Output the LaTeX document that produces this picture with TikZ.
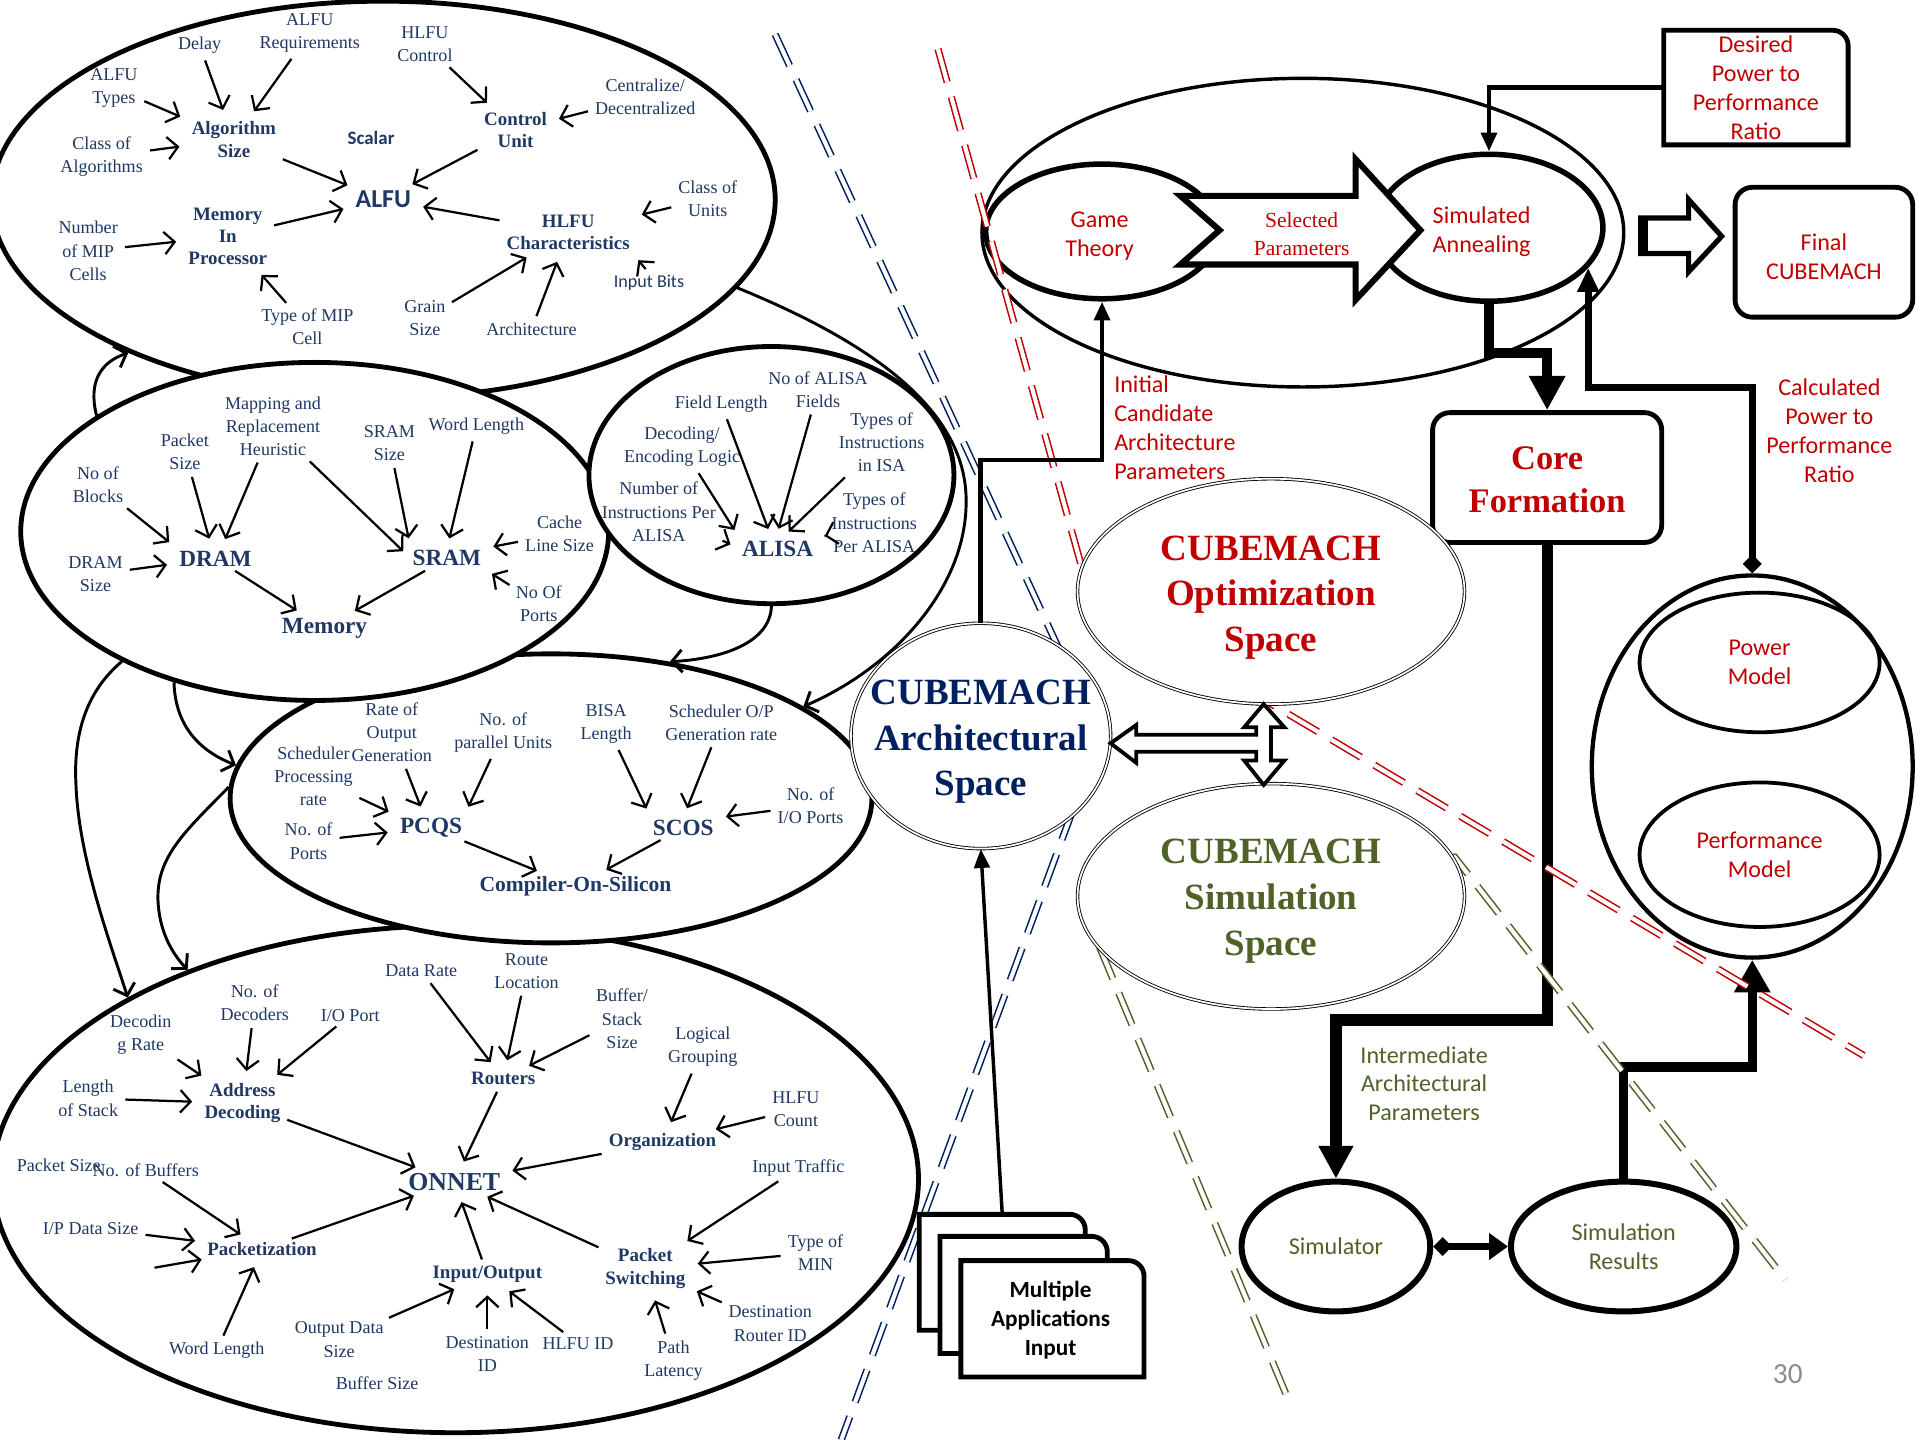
\documentclass[tikz,border=0pt]{standalone}
\usepackage{fontspec}
\setmainfont{Liberation Serif}
\newfontfamily\carlito{Carlito}
\usetikzlibrary{arrows.meta,shapes.geometric}

\definecolor{navy}{RGB}{31,56,100}
\definecolor{deepnavy}{RGB}{0,32,96}
\definecolor{cmred}{RGB}{192,0,0}
\definecolor{olive}{RGB}{79,98,40}
\definecolor{pagegray}{RGB}{140,140,140}

\newcommand{\docedge}[1]{%
  \draw[line width=2.8pt,fill=white] (#1.south west) -- (#1.north west)
    -- ([xshift=-9pt]#1.north east) arc[start angle=90,end angle=0,radius=9pt]
    -- (#1.south east) -- cycle;}

\begin{document}
\begin{tikzpicture}[x=0.025cm,y=-0.025cm,
  lbl/.style={text=navy,inner sep=1pt,align=center,font=\fontsize{10.5}{13.5}\selectfont},
  hub/.style={lbl,font=\bfseries\fontsize{11}{13}\selectfont},
  mainunit/.style={lbl,font=\bfseries\fontsize{13.5}{16}\selectfont},
  feed/.style={-{Straight Barb[length=6pt,width=13pt]},line width=1.3pt,shorten <=3pt,shorten >=6pt},
  realm/.style={ellipse,draw,fill=white,line width=2.8pt,inner sep=0pt},
  link/.style={-{Straight Barb[length=6pt,width=13pt]},line width=1.7pt},
  divider/.style={double distance=2.4pt,line width=0.9pt,dash pattern=on 20pt off 9pt},
  stage/.style={ellipse,draw,inner sep=0pt,align=center},
  redtxt/.style={text=cmred,align=center,font=\carlito\fontsize{14}{16.8}\selectfont},
  greentxt/.style={text=olive,align=center,font=\carlito\fontsize{14}{16.8}\selectfont},
  cmspace/.style={ellipse,draw,fill=white,double distance=1pt,line width=0.5pt,inner sep=0pt},
  cmtxt/.style={align=center,font=\bfseries\fontsize{21.5}{26.5}\selectfont},
  flow/.style={line width=2.8pt,-{Triangle[length=11pt,width=9pt]}},
]
\useasboundingbox (0,0) rectangle (1568,1176);

% parameter spaces
\node[realm,minimum width=18.9cm,minimum height=10.35cm] (onnetell) at (372,963) {};
\node[realm,minimum width=13.1cm,minimum height=5.9cm] (cosell) at (450,652) {};
\node[realm,minimum width=16cm,minimum height=8.1cm] (alfuell) at (313,163) {};
\node[realm,minimum width=12cm,minimum height=6.9cm] (memell) at (257,434) {};
\node[realm,minimum width=7.45cm,minimum height=5.25cm] (alisaell) at (630,388) {};

% ALFU
\node[lbl] (alfutypes) at (93,72) {ALFU\\Types};
\node[lbl] (delay) at (163,37) {Delay};
\node[lbl] (alfureq) at (253,27) {ALFU\\Requirements};
\node[lbl] (hlfuctl) at (347,36) {HLFU\\Control};
\node[lbl] (central) at (527,79) {Centralize/\\Decentralized};
\node[lbl] (classalg) at (83,128) {Class of\\Algorithms};
\node[hub] (algsize) at (191,114) {Algorithm\\Size};
\node[lbl,font=\carlito\bfseries\fontsize{11}{13}\selectfont] (scalar) at (303,113) {Scalar};
\node[hub] (ctlunit) at (421,106) {Control\\Unit};
\node[lbl,font=\carlito\bfseries\fontsize{15}{18}\selectfont] (alfu) at (313,163) {ALFU};
\node[lbl] (classunits) at (578,162) {Class of\\Units};
\node[hub] (mip) at (186,193) {Memory\\In\\Processor};
\node[lbl] (nummip) at (72,205) {Number\\of MIP\\Cells};
\node[hub] (hlfuchar) at (464,190) {HLFU\\Characteristics};
\node[lbl,font=\carlito\fontsize{10.5}{13}\selectfont] (inbits) at (530,231) {Input Bits};
\node[lbl] (mipcell) at (251,267) {Type of MIP\\Cell};
\node[lbl] (grain) at (347,260) {Grain\\Size};
\node[lbl] (archi) at (434,269) {Architecture};
\draw[feed] (alfutypes) -- (algsize);
\draw[feed] (delay) -- (algsize);
\draw[feed] (alfureq) -- (algsize);
\draw[feed] (classalg) -- (algsize);
\draw[feed] (algsize) -- (alfu);
\draw[feed] (ctlunit) -- (alfu);
\draw[feed] (hlfuctl) -- (ctlunit);
\draw[feed] (central) -- (ctlunit);
\draw[feed] (mip) -- (alfu);
\draw[feed] (hlfuchar) -- (alfu);
\draw[feed] (classunits) -- (hlfuchar);
\draw[feed] (inbits.north) -- (hlfuchar.south east);
\draw[feed] (grain) -- (hlfuchar);
\draw[feed] (archi) -- (hlfuchar);
\draw[feed] (mipcell) -- (mip);
\draw[feed] (nummip) -- (mip);

% Memory
\node[lbl] (noblocks) at (80,396) {No of\\Blocks};
\node[lbl] (pktsize) at (151,369) {Packet\\Size};
\node[lbl] (mapping) at (223,348) {Mapping and\\Replacement\\Heuristic};
\node[lbl] (sramsize) at (318,362) {SRAM\\Size};
\node[lbl] (wordlen) at (389,348) {Word Length};
\node[lbl] (cacheline) at (457,436) {Cache\\Line Size};
\node[lbl] (dramsize) at (78,469) {DRAM\\Size};
\node[mainunit] (dram) at (176,456) {DRAM};
\node[mainunit] (sram) at (365,456) {SRAM};
\node[lbl] (noports) at (440,493) {No Of\\Ports};
\node[mainunit] (memory) at (265,513) {Memory};
\draw[feed] (noblocks) -- (dram.north west);
\draw[feed] (pktsize) -- (dram.110);
\draw[feed] (mapping) -- (dram.60);
\draw[feed] (mapping) -- (sram.west);
\draw[feed] (sramsize) -- (sram.north west);
\draw[feed] (wordlen) -- (sram.north);
\draw[feed] (cacheline) -- (sram.north east);
\draw[feed] (dramsize) -- (dram);
\draw[feed] (dram) -- (memory);
\draw[feed] (sram) -- (memory);
\draw[feed] (noports) -- (sram.south east);

% ALISA
\node[lbl] (alisafields) at (668,318) {No of ALISA\\Fields};
\node[lbl] (fieldlen) at (589,330) {Field Length};
\node[lbl] (decoding) at (557,365) {Decoding/\\Encoding Logic};
\node[lbl] (typesisa) at (720,361) {Types of\\Instructions\\in ISA};
\node[lbl] (numinstr) at (538,418) {Number of\\Instructions Per\\ALISA};
\node[lbl] (typesper) at (714,427) {Types of\\Instructions\\Per ALISA};
\node[mainunit] (alisa) at (635,448) {ALISA};
\draw[feed] (decoding) -- (alisa.north west);
\draw[feed] (fieldlen) -- (alisa.120);
\draw[feed] (alisafields) -- (alisa.100);
\draw[feed] (typesisa) -- (alisa.70);
\draw[feed] (numinstr) -- (alisa.west);
\draw[feed] (typesper) -- (alisa);

% Compiler-On-Silicon
\node[lbl] (rateout) at (320,598) {Rate of\\Output\\Generation};
\node[lbl] (schedproc) at (256,634) {Scheduler\\Processing\\rate};
\node[lbl] (parunits) at (411,598) {No. of\\parallel Units};
\node[lbl] (bisalen) at (495,591) {BISA\\Length};
\node[lbl] (schedop) at (589,590) {Scheduler O/P\\Generation rate};
\node[lbl] (ioports) at (662,658) {No. of\\I/O Ports};
\node[lbl] (ports) at (252,687) {No. of\\Ports};
\node[mainunit] (pcqs) at (352,676) {PCQS};
\node[mainunit] (scos) at (558,676) {SCOS};
\node[lbl,font=\bfseries\fontsize{12.5}{15}\selectfont] (cos) at (470,724) {Compiler-On-Silicon};
\draw[feed] (schedproc) -- (pcqs.north west);
\draw[feed] (rateout) -- (pcqs.120);
\draw[feed] (parunits) -- (pcqs.north east);
\draw[feed] (ports) -- (pcqs);
\draw[feed] (pcqs) -- (cos);
\draw[feed] (bisalen) -- (scos.north west);
\draw[feed] (schedop) -- (scos.north);
\draw[feed] (ioports) -- (scos.north east);
\draw[feed] (scos) -- (cos);

% ONNET
\node[lbl] (decrate) at (115,845) {Decodin\\g Rate};
\node[lbl] (nodec) at (208,819) {No. of\\Decoders};
\node[lbl] (ioport) at (286,829) {I/O Port};
\node[lbl] (datarate) at (344,793) {Data Rate};
\node[lbl] (routeloc) at (430,793) {Route\\Location};
\node[lbl] (bufstack) at (508,832) {Buffer/\\Stack\\Size};
\node[lbl] (logical) at (574,855) {Logical\\Grouping};
\node[lbl] (hlfucount) at (650,906) {HLFU\\Count};
\node[lbl] (lenstack) at (72,897) {Length\\of Stack};
\node[hub] (addrdec) at (198,901) {Address\\Decoding};
\node[hub] (routers) at (411,881) {Routers};
\node[hub] (organ) at (541,933) {Organization};
\node[lbl] (intraffic) at (652,954) {Input Traffic};
\node[lbl,font=\bfseries\fontsize{15}{18}\selectfont] (onnet) at (371,965) {ONNET};
\node[lbl] (pktsz) at (48,952) {Packet Size};
\node[lbl] (nobuf) at (119,956) {No. of Buffers};
\node[lbl] (ipdata) at (74,1003) {I/P Data Size};
\coordinate (pktin) at (122,1036);
\node[hub] (pktz) at (214,1020) {Packetization};
\node[lbl] (typemin) at (666,1023) {Type of\\MIN};
\node[hub] (pktsw) at (527,1036) {Packet\\Switching};
\node[hub] (inout) at (398,1041) {Input/Output};
\node[lbl] (outdata) at (277,1094) {Output Data\\Size};
\node[lbl] (wordlentwo) at (177,1103) {Word Length};
\node[lbl] (destid) at (398,1106) {Destination\\ID};
\node[lbl] (hlfuid) at (472,1097) {HLFU ID};
\node[lbl] (destrouter) at (629,1081) {Destination\\Router ID};
\node[lbl] (pathlat) at (550,1111) {Path\\Latency};
\node[lbl] (bufsize) at (308,1130) {Buffer Size};
\draw[feed] (decrate) -- (addrdec);
\draw[feed] (nodec) -- (addrdec);
\draw[feed] (ioport) -- (addrdec);
\draw[feed] (lenstack) -- (addrdec);
\draw[feed] (addrdec) -- (onnet);
\draw[feed] (datarate) -- (routers);
\draw[feed] (routeloc) -- (routers);
\draw[feed] (bufstack) -- (routers);
\draw[feed] (routers) -- (onnet);
\draw[feed] (logical) -- (organ);
\draw[feed] (hlfucount) -- (organ);
\draw[feed] (organ) -- (onnet);
\draw[feed] (pktz) -- (onnet);
\draw[feed] (nobuf) -- (pktz);
\draw[feed] (ipdata) -- (pktz);
\draw[feed] (pktin) -- (pktz);
\draw[feed] (wordlentwo) -- (pktz);
\draw[feed] (inout) -- (onnet);
\draw[feed] (pktsw) -- (onnet);
\draw[feed] (intraffic) -- (pktsw);
\draw[feed] (typemin) -- (pktsw);
\draw[feed] (destrouter) -- (pktsw);
\draw[feed] (pathlat) -- (pktsw);
\draw[feed] (outdata) -- (inout);
\draw[feed] (destid) -- (inout);
\draw[feed] (hlfuid) -- (inout);

% links between the spaces
\draw[link] (memell.152) .. controls (72,312) and (82,296) .. (alfuell.211);
\draw[link] (alfuell.-14) .. controls (700,275) and (790,330) .. (789,410)
  .. controls (789,480) and (730,545) .. (cosell.20);
\draw[link] (alisaell.south) .. controls (629,525) and (590,538) .. (cosell.49);
\draw[link] (memell.214) .. controls (70,565) and (60,600) .. (62,640)
  .. controls (64,700) and (90,770) .. (onnetell.151);
\draw[link] (memell.227) .. controls (143,590) and (160,612) .. (cosell.174);
\draw[link] (cosell.178) .. controls (150,680) and (128,700) .. (129,735)
  .. controls (130,760) and (140,778) .. (onnetell.142);

% optimization loop
\node[stage,line width=2pt,minimum width=13.1cm,minimum height=6.3cm] (topell) at (1064,190) {};
\node[stage,line width=3.2pt,minimum width=4.75cm,minimum height=2.75cm] (gamell) at (900,189) {};
\node[stage,line width=3.2pt,minimum width=4.65cm,minimum height=3cm] (saell) at (1216,186) {};
\node[redtxt] (gametxt) at (898,193) {Game\\Theory};
\node[redtxt] (satxt) at (1210,189) {Simulated\\Annealing};
\draw[line width=3.5pt,fill=white] (964,160) -- (1107,160) -- (1107,130) -- (1160,188)
  -- (1107,245) -- (1107,216) -- (964,216) -- (996,188) -- cycle;
\node[text=cmred,align=center,font=\fontsize{12.5}{16.4}\selectfont] (selpar) at (1063,191) {Selected\\Parameters};

\node[redtxt,minimum width=3.75cm,minimum height=2.325cm,inner sep=0pt] (desired) at (1434,71.5) {Desired\\Power to\\Performance\\Ratio};
\draw[line width=2.8pt] (desired.south west) -- (desired.north west)
  -- ([xshift=-9pt]desired.north east) arc[start angle=90,end angle=0,radius=9pt]
  -- (desired.south east) -- cycle;
\draw[flow] (desired.west) -| (saell.north);

\draw[line width=3pt,fill=white] (1340,178) -- (1379,178) -- (1379,163) -- (1406,193)
  -- (1379,222) -- (1379,207) -- (1340,207) -- cycle;
\draw[line width=6pt] (1342,178) -- (1342,207);
\node[draw,line width=2.8pt,rounded corners=10pt,minimum width=3.625cm,minimum height=2.65cm] (final) at (1489.5,206) {};
\node[redtxt] (finaltxt) at (1489.5,210) {Final\\CUBEMACH};

\node[draw,line width=2.8pt,rounded corners=10pt,minimum width=4.675cm,minimum height=2.65cm] (core) at (1263.5,390) {};
\node[text=cmred,align=center,font=\bfseries\fontsize{20}{25}\selectfont] (coretxt) at (1263.5,392) {Core\\Formation};
\draw[line width=5.5pt,-{Triangle[length=20pt,width=20pt]}] (saell.south) -- ++(0,40) -| (core.north);

% power and performance models
\node[stage,line width=2.5pt,minimum width=6.55cm,minimum height=7.8cm] (pmell) at (1431,626) {};
\node[stage,line width=2.2pt,minimum width=4.9cm,minimum height=2.85cm,redtxt] (powell) at (1437,541) {Power\\Model};
\node[stage,line width=2.2pt,minimum width=4.9cm,minimum height=2.95cm,redtxt] (perfell) at (1437,698) {Performance\\Model};
\node[redtxt] (calc) at (1494,352) {Calculated\\Power to\\Performance\\Ratio};
\draw[line width=4pt,{Diamond[length=11pt,width=11pt]}-{Triangle[length=14pt,width=12pt]}]
  (pmell.north) -- ++(0,-152) -| (saell.-22);

% simulation
\node[stage,line width=3.5pt,minimum width=3.85cm,minimum height=2.65cm,greentxt] (simulator) at (1091,1018) {Simulator};
\node[stage,line width=3.5pt,minimum width=4.6cm,minimum height=2.65cm,greentxt] (results) at (1326,1018) {Simulation\\Results};
\node[greentxt] (interm) at (1163,885) {Intermediate\\Architectural\\Parameters};
\draw[line width=6.5pt,-{Triangle[length=19pt,width=19pt]}] (core.south) -- ++(0,388) -| (simulator.north);
\draw[line width=3.9pt,{Diamond[length=11pt,width=11pt]}-{Triangle[length=11pt,width=15pt]}] (simulator.east) -- (results.west);
\draw[line width=5.5pt,-{Triangle[length=19pt,width=20pt]}] (results.north) -- ++(0,-91) -| (pmell.south);

% dividers
\draw[divider,deepnavy] (633,28) -- (898,602) -- (687,1176);
\draw[divider,cmred] (766,40) -- (890,487) -- (1522,862);
\draw[divider,olive] (1050,1138) -- (882,735) -- (1188,700) -- (1458,1045);

% CUBEMACH spaces
\node[cmspace,minimum width=5.3cm,minimum height=4.6cm] (archell) at (801,601) {};
\node[cmspace,minimum width=7.9cm,minimum height=4.6cm] (optell) at (1038,483) {};
\node[cmspace,minimum width=7.9cm,minimum height=4.6cm] (simell) at (1038,732) {};
\node[cmtxt,text=deepnavy] (archtxt) at (801,606) {CUBEMACH\\Architectural\\Space};
\node[cmtxt,text=cmred] (opttxt) at (1038,488) {CUBEMACH\\Optimization\\Space};
\node[cmtxt,text=olive] (simtxt) at (1038,736) {CUBEMACH\\Simulation\\Space};
\draw[line width=2.2pt,fill=white]
  (1032,575) -- (1049,594) -- (1038,594) -- (1038,621) -- (1049,621) -- (1032,641)
  -- (1016,621) -- (1026,621) -- (1026,614) -- (928,614) -- (928,623) -- (907,607)
  -- (928,592) -- (928,600) -- (1026,600) -- (1026,594) -- (1016,594) -- cycle;

\draw[flow] (archell.north) -- ++(0,-133) -| (gamell.south);
\node[redtxt,align=left,anchor=west] (initial) at (905,349) {Initial\\Candidate\\Architecture\\Parameters};

% applications
\node[minimum width=3.375cm,minimum height=2.35cm] (doc1) at (818.5,1039) {};
\draw[line width=2pt,-{Triangle[length=11pt,width=9pt]}] (doc1.north) -- (archell.south);
\docedge{doc1}
\node[minimum width=3.4cm,minimum height=2.375cm] (doc2) at (836,1057.5) {};
\docedge{doc2}
\node[minimum width=3.725cm,minimum height=2.36cm] (doc3) at (859.5,1077) {};
\docedge{doc3}
\node[align=center,font=\carlito\bfseries\fontsize{13.5}{16.8}\selectfont] (appin) at (858,1078) {Multiple\\Applications\\Input};

\node[text=pagegray,font=\carlito\fontsize{17}{20}\selectfont] (pageno) at (1460,1122) {30};
\end{tikzpicture}
\end{document}
